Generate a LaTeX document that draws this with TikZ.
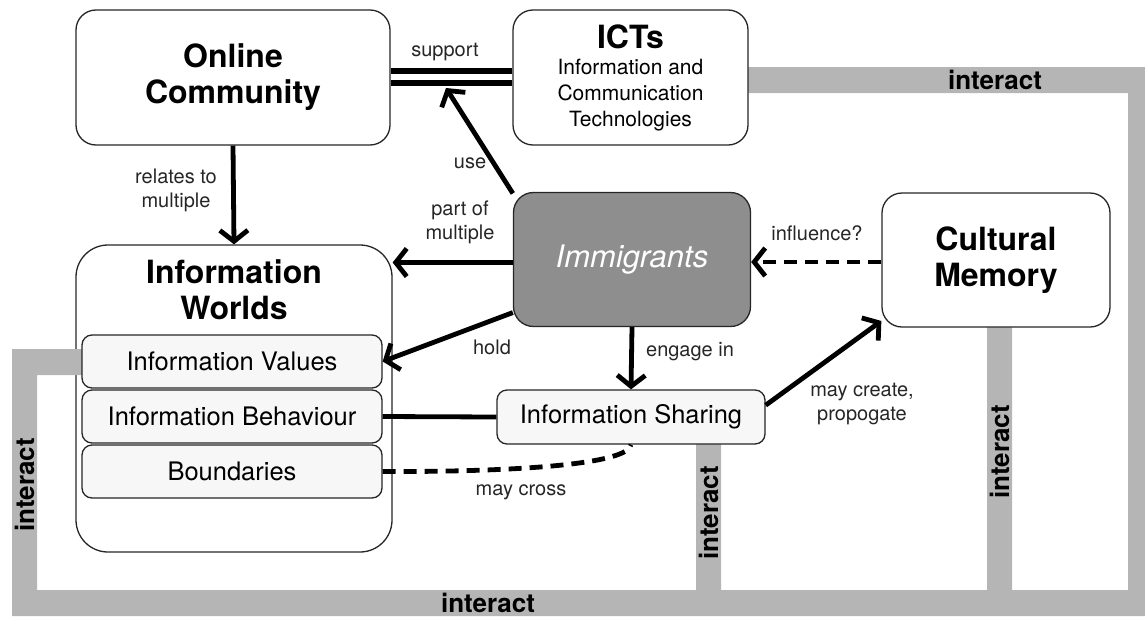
\documentclass[tikz,border=0pt]{standalone}
\usepackage{fontspec}
\setmainfont{TeX Gyre Heros}
\usetikzlibrary{arrows.meta}
\definecolor{bandgray}{HTML}{B5B5B5}
\definecolor{immgray}{HTML}{8E8E8E}
\definecolor{boxfill}{HTML}{F7F7F7}
\tikzset{
	box/.style={draw=black!85, line width=1.3pt, rounded corners=20pt, fill=white, align=center, inner sep=0pt},
	subbox/.style={draw=black!85, line width=1.3pt, rounded corners=10pt, fill=boxfill, minimum height=53pt, font=\fontsize{25.5}{30}\selectfont},
	titletext/.style={align=center, font=\fontsize{32}{36}\bfseries\selectfont},
	rel/.style={line width=4.8pt, -{Straight Barb[length=11pt,width=28pt]}},
	lbl/.style={align=center, font=\fontsize{20}{24}\selectfont, text=black!85},
	bandtext/.style={font=\fontsize{26}{30}\bfseries\selectfont},
}
\begin{document}
\begin{tikzpicture}[x=1pt,y=-1pt]
	\useasboundingbox (0,0) rectangle (1145,616);
	
	\node[box, rounded corners=32pt, minimum width=316pt, minimum height=307pt] (iw) at (234,398.5) {};
	
	% interact bands
	\fill[bandgray] (12,349) -- (82,349) -- (82,375) -- (37,375) -- (37,590) -- (696,590) -- (696,440) -- (721,440) -- (721,590)
		-- (987,590) -- (987,320) -- (1012,320) -- (1012,590) -- (1128,590) -- (1128,93) -- (745,93) -- (745,67)
		-- (1145,67) -- (1145,616) -- (12,616) -- cycle;
	\node[bandtext] (inttop) at (995,80) {interact};
	\node[bandtext] (intbot) at (488,603) {interact};
	\node[bandtext, rotate=90] (intleft) at (24.5,485) {interact};
	\node[bandtext, rotate=90] (intmid) at (708.5,513) {interact};
	\node[bandtext, rotate=90] (intright) at (999.5,452) {interact};
	
	\node[box, minimum width=314pt, minimum height=135pt, titletext] (oc) at (233,77.5) {Online\\Community};
	\node[box, minimum width=235pt, minimum height=135pt, font=\fontsize{21}{26}\selectfont] (ict) at (630.5,77.5)
		{{\fontsize{32}{36}\bfseries\selectfont ICTs}\\Information and\\Communication\\Technologies};
	\node[titletext] (iwtitle) at (234,290) {Information\\Worlds};
	\node[subbox, minimum width=300pt] (iv) at (232,361.5) {Information Values};
	\node[subbox, minimum width=300pt] (ib) at (232,416.5) {Information Behaviour};
	\node[subbox, minimum width=300pt] (bd) at (232,471.5) {Boundaries};
	\node[box, fill=immgray, minimum width=237pt, minimum height=134pt, text=white, font=\fontsize{31}{36}\itshape\selectfont] (imm) at (632,259.5) {Immigrants};
	\node[box, minimum width=228pt, minimum height=134pt, titletext] (cm) at (996,260) {Cultural\\Memory};
	\node[subbox, minimum width=268pt, minimum height=54pt] (is) at (631,417) {Information Sharing};
	
	% connectors
	\draw[line width=5.5pt] ([yshift=6.5pt]oc.east) -- ([yshift=6.5pt]ict.west);
	\draw[line width=5.5pt] ([yshift=-5.5pt]oc.east) -- ([yshift=-5.5pt]ict.west);
	\coordinate (sup) at (446,88);
	\draw[rel] (oc.south) -- (iw.north);
	\draw[rel] ([yshift=-3pt]imm.west) -- ([yshift=-3pt]imm.west -| iw.east);
	\draw[rel] (imm.204) -- (iv.east);
	\draw[rel] (imm.151) -- (sup);
	\draw[rel] (imm.south) -- (is.north);
	\draw[rel, dash pattern=on 13pt off 8pt] ([yshift=-2pt]cm.west) -- ([yshift=-2pt]cm.west -| imm.east);
	\draw[rel] (is.5) -- (cm.208);
	\draw[line width=4.8pt] (ib.east) -- (is.west);
	\draw[line width=4.8pt, dash pattern=on 13pt off 8pt] (bd.east) .. controls (520,472) and (628,464) .. (is.south);
	
	% labels
	\node[lbl] (lsup) at (445,52) {support};
	\node[lbl] (lrel) at (176,190) {relates to\\multiple};
	\node[lbl] (luse) at (470,163) {use};
	\node[lbl] (lpart) at (460,222) {part of\\multiple};
	\node[lbl] (lhold) at (492,347) {hold};
	\node[lbl] (leng) at (690,352) {engage in};
	\node[lbl] (linf) at (817,233) {influence?};
	\node[lbl] (lcre) at (862,404) {may create,\\propogate};
	\node[lbl] (lcross) at (521,492) {may cross};
\end{tikzpicture}
\end{document}
